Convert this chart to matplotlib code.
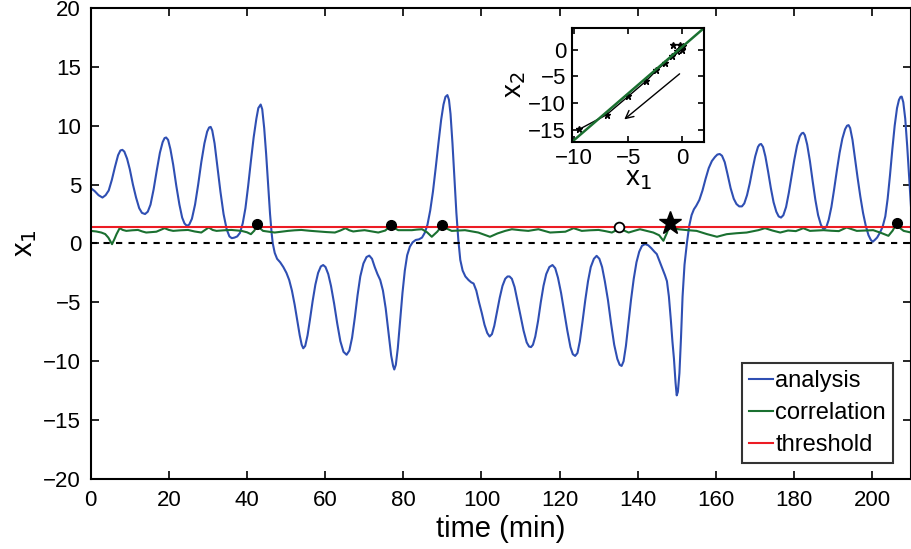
import matplotlib
matplotlib.use('Agg')
import matplotlib.pyplot as plt

plt.rcParams['font.family'] = ['Liberation Sans', 'DejaVu Sans']

# analysis trace (x1)
t_analysis = [0, 1, 2, 3, 3.8, 4.6, 5.4, 6.2, 7.0, 7.6, 8.1, 8.6, 9.3, 10.0, 10.8,
              11.6, 12.4, 13.1, 13.9, 14.6, 15.3, 16.1, 16.9, 17.7, 18.4, 18.9,
              19.3, 19.8, 20.4, 21.1, 21.9, 22.7, 23.4, 24.0, 24.6, 25.2, 25.9,
              26.7, 27.5, 28.3, 29.1, 29.8, 30.3, 30.7, 31.1, 31.7, 32.4, 33.2,
              34.0, 34.8, 35.5, 36.1, 36.8, 37.5, 38.2, 38.9, 39.6, 40.3, 41.0,
              41.7, 42.4, 42.9, 43.5, 43.9, 44.4, 44.9, 45.4, 45.9, 46.3, 46.6,
              47.1, 47.7, 48.5, 49.3, 50.1, 50.8, 51.5, 52.2, 52.9, 53.5, 54.0,
              54.4, 54.9, 55.5, 56.1, 56.8, 57.5, 58.2, 58.9, 59.5, 60.1, 60.8,
              61.5, 62.3, 63.1, 63.9, 64.7, 65.5, 66.2, 66.9, 67.6, 68.3, 69.0,
              69.8, 70.6, 71.3, 72.0, 72.7, 73.4, 74.1, 74.8, 75.5, 76.2, 76.9,
              77.4, 77.7, 78.1, 78.6, 79.2, 79.8, 80.4, 81.0, 81.7, 82.4, 83.2,
              84.0, 84.8, 85.5, 86.2, 86.9, 87.6, 88.3, 89.0, 89.7, 90.3, 90.8,
              91.3, 91.7, 92.1, 92.6, 93.1, 93.6, 94.1, 94.6, 95.2, 95.9, 96.7,
              97.4, 98.0, 98.7, 99.4, 100.1, 100.8, 101.5, 102.1, 102.7, 103.3,
              104.0, 104.7, 105.4, 106.1, 106.7, 107.2, 107.8, 108.5, 109.2,
              110.0, 110.8, 111.6, 112.2, 112.7, 113.2, 113.8, 114.5, 115.2,
              115.9, 116.6, 117.4, 118.2, 118.9, 119.6, 120.4, 121.2, 122.0,
              122.8, 123.4, 124.0, 124.6, 125.2, 125.9, 126.6, 127.3, 128.0,
              128.8, 129.5, 130.2, 130.9, 131.6, 132.4, 133.2, 134.0, 134.8,
              135.4, 135.9, 136.4, 137.0, 137.6, 138.3, 139.0, 139.7, 140.4,
              141.1, 141.9, 142.7, 143.5, 144.3, 144.9, 145.6, 146.3, 147.0,
              147.5, 148.0, 148.5, 148.9, 149.3, 149.7, 150.0, 150.3, 150.7,
              151.1, 151.5, 152.0, 152.6, 153.2, 153.8, 154.4, 155.0, 155.8,
              156.6, 157.4, 158.2, 159.0, 159.8, 160.4, 161.0, 161.6, 162.3,
              163.0, 163.8, 164.6, 165.3, 166.0, 166.7, 167.3, 168.0, 168.7,
              169.4, 170.1, 170.8, 171.2, 171.6, 172.1, 172.7, 173.4, 174.1,
              174.8, 175.5, 176.1, 176.7, 177.3, 178.0, 178.7, 179.4, 180.1,
              180.8, 181.5, 182.0, 182.4, 182.8, 183.4, 184.1, 184.8, 185.5,
              186.2, 186.9, 187.4, 187.8, 188.3, 188.9, 189.6, 190.3, 191.0,
              191.7, 192.4, 193.1, 193.6, 194.0, 194.4, 195.0, 195.6, 196.3,
              197.0, 197.7, 198.4, 199.1, 199.7, 200.2, 200.7, 201.3, 202.0,
              202.7, 203.4, 204.0, 204.6, 205.2, 205.8, 206.4, 206.9, 207.3,
              207.6, 208.0, 208.5, 209.0, 209.5, 210.0]
x1_analysis = [4.7, 4.45, 4.1, 3.9, 4.1, 4.5, 5.4, 6.5, 7.5, 7.9, 7.95, 7.8, 7.2,
               6.3, 5.0, 3.9, 3.0, 2.6, 2.5, 2.7, 3.3, 4.6, 6.2, 7.7, 8.6, 8.95,
               9.0, 8.8, 8.0, 6.7, 4.9, 3.3, 2.2, 1.7, 1.5, 1.6, 2.1, 3.3, 5.0,
               6.9, 8.5, 9.5, 9.85, 9.9, 9.6, 8.5, 6.6, 4.4, 2.5, 1.2, 0.6, 0.45,
               0.5, 0.6, 0.9, 1.7, 3.0, 4.9, 7.0, 9.0, 10.6, 11.5, 11.8, 11.4,
               9.8, 7.6, 5.0, 2.5, 0.9, 0.0, -0.8, -1.3, -1.6, -2.0, -2.5, -3.1,
               -4.0, -5.2, -6.6, -7.8, -8.6, -8.9, -8.7, -7.8, -6.5, -4.9, -3.5,
               -2.5, -1.95, -1.83, -2.0, -2.6, -3.6, -5.1, -6.8, -8.3, -9.2,
               -9.45, -9.1, -8.0, -6.3, -4.4, -2.8, -1.7, -1.15, -1.03, -1.3,
               -2.0, -2.6, -3.1, -4.0, -5.5, -7.5, -9.5, -10.4, -10.7, -10.3,
               -8.9, -6.5, -4.2, -2.3, -1.0, -0.27, 0.1, 0.3, 0.35, 0.5, 0.9,
               1.6, 2.8, 4.4, 6.4, 8.5, 10.5, 11.8, 12.45, 12.6, 12.2, 11.0, 8.5,
               5.5, 2.6, 0.3, -1.4, -2.3, -2.8, -3.1, -3.3, -3.4, -4.0, -5.0,
               -5.9, -6.9, -7.6, -7.9, -7.7, -7.0, -5.8, -4.6, -3.6, -3.0, -2.8,
               -2.8, -3.0, -3.7, -4.8, -6.1, -7.4, -8.4, -8.75, -8.8, -8.6, -7.9,
               -6.6, -5.0, -3.6, -2.6, -2.0, -1.83, -2.1, -2.9, -4.2, -5.8, -7.4,
               -8.8, -9.4, -9.55, -9.3, -8.3, -6.6, -4.8, -3.2, -2.0, -1.3, -1.05,
               -1.3, -2.0, -3.2, -4.8, -6.8, -8.6, -9.8, -10.3, -10.4, -10.0,
               -8.7, -6.9, -4.8, -3.0, -1.6, -0.7, -0.2, -0.05, -0.15, -0.4, -0.7,
               -0.9, -1.5, -2.1, -2.7, -3.2, -4.5, -6.5, -8.3, -9.8, -11.8, -12.9,
               -12.6, -11.0, -8.0, -4.5, -1.8, 0.0, 1.5, 2.4, 2.9, 3.2, 3.7, 4.5,
               5.5, 6.4, 7.0, 7.35, 7.55, 7.6, 7.45, 6.9, 5.9, 4.7, 3.8, 3.35,
               3.15, 3.15, 3.4, 4.1, 5.1, 6.3, 7.4, 8.2, 8.4, 8.45, 8.2, 7.4, 6.1,
               4.7, 3.5, 2.7, 2.3, 2.2, 2.4, 3.1, 4.3, 5.7, 7.1, 8.3, 9.1, 9.35,
               9.4, 9.2, 8.4, 7.0, 5.3, 3.7, 2.4, 1.6, 1.3, 1.25, 1.4, 2.0, 3.1,
               4.6, 6.2, 7.7, 8.9, 9.7, 10.0, 10.05, 9.8, 8.8, 7.3, 5.6, 4.0, 2.6,
               1.5, 0.7, 0.3, 0.15, 0.3, 0.5, 0.9, 1.4, 2.3, 3.8, 5.8, 8.0, 10.0,
               11.5, 12.2, 12.45, 12.47, 12.0, 10.6, 8.3, 5.6, 3.0]

# correlation trace
t_corr = [0, 1.4, 2.7, 3.7, 4.5, 5.45, 6.1, 6.6, 7.4, 8.2, 9.1, 10.6, 12.1, 13.2,
          14.2, 16.8, 18.9, 20.0, 21.1, 23.0, 24.9, 26.6, 28.3, 30.2, 31.2,
          32.2, 34.1, 36, 38.6, 40.0, 41, 41.9, 42.65, 43.3, 44.1, 45.6, 47.1,
          48.8, 50.5, 52.2, 53.9, 56.0, 58.2, 60.3, 62.5, 63.9, 65.2, 66.2,
          67.2, 68.6, 70.1, 71.9, 73.6, 75.4, 76.9, 77.8, 78.7, 80.4, 82.2,
          83.5, 84.8, 86.1, 87.3, 88.7, 90.0, 91.2, 92.4, 94.1, 95.8, 97.5,
          99.2, 100.7, 102.2, 104.1, 106.1, 107.8, 109.9, 112.0, 114.6, 116.1,
          117.6, 119.6, 121.5, 123.6, 125.7, 127.8, 130.0, 131.7, 133.4,
          134.4, 135.3, 136.5, 137.7, 139.2, 140.6, 142.3, 144.0, 145.5,
          146.6, 147.5, 148.3, 149.3, 150.4, 152.8, 155.1, 157.7, 160.3,
          162.8, 165.3, 167.9, 170.9, 172.6, 174.5, 176.5, 178.5, 180.5,
          182.4, 184.1, 185.9, 187.6, 189.6, 191.5, 193.5, 196.1, 198.2,
          200.3, 202.3, 204.2, 205.3, 206.3, 207.2, 208.1, 210]
corr = [1.07, 1.02, 0.93, 0.8, 0.5, -0.06, 0.4, 0.79, 1.30, 1.15, 1.07, 1.12,
        1.15, 1.02, 0.93, 1.0, 1.30, 1.15, 1.07, 1.12, 1.15, 1.02, 0.93, 1.36,
        1.15, 1.07, 1.12, 1.15, 1.07, 0.95, 0.79, 1.1, 1.64, 1.3, 1.07, 1.0,
        0.93, 1.0, 1.07, 1.12, 1.15, 1.08, 1.02, 0.97, 0.93, 1.1, 1.30, 1.12,
        1.02, 1.08, 1.13, 1.03, 0.93, 1.1, 1.55, 1.3, 1.13, 1.13, 1.13, 1.18,
        1.21, 0.95, 0.57, 1.0, 1.55, 1.25, 1.07, 1.1, 1.13, 1.03, 0.93, 0.75,
        0.57, 0.85, 1.07, 1.21, 1.13, 1.07, 1.21, 1.07, 0.93, 0.97, 1.0, 1.30,
        1.07, 1.12, 1.15, 1.05, 0.93, 1.1, 1.41, 1.1, 0.93, 1.08, 1.21, 1.07,
        0.93, 0.7, 0.23, 0.9, 1.7, 1.35, 1.21, 1.13, 1.07, 0.8, 0.57, 0.79,
        0.87, 0.93, 1.13, 1.30, 1.1, 0.93, 1.1, 1.05, 1.30, 1.07, 1.1, 1.13,
        1.08, 1.05, 1.36, 1.07, 1.1, 1.13, 0.9, 0.65, 1.1, 1.72, 1.3, 1.07,
        0.93]

threshold = 1.41

# detections
t_hit = [42.65, 76.9, 90.0, 206.3]
c_hit = [1.64, 1.55, 1.55, 1.72]
t_miss = [135.3]
c_miss = [1.41]
t_event = [148.3]
c_event = [1.75]

# inset: x1 vs x2
inset_x1 = [-9.5, -7.0, -5.0, -3.36, -2.4, -1.6, -1.0, -0.5, -0.06, 0.1, -0.2, -0.9]
inset_x2 = [-14.9, -12.2, -8.75, -5.9, -3.9, -2.5, -1.25, -0.3, 0.0, 0.6, 0.9, 0.9]
fit_x1 = [-10.2, 2.0]
fit_x2 = [-17.3, 4.05]

blue = '#2f4fb3'
green = '#1a7030'
red = '#ec1c24'

fig = plt.figure(figsize=(9.12, 5.49), dpi=100)
ax = fig.add_axes([0.0995, 0.1275, 0.8995, 0.858])

ax.plot(t_analysis, x1_analysis, color=blue, lw=1.5, label='analysis')
ax.plot(t_corr, corr, color=green, lw=1.5, label='correlation')
ax.axhline(threshold, color=red, lw=1.5, label='threshold')
ax.axhline(0, color='k', lw=1.5, ls=(0, (3, 3)))
ax.plot(t_hit, c_hit, 'o', color='k', ms=7, zorder=5)
ax.plot(t_miss, c_miss, 'o', mfc='white', mec='k', mew=1.3, ms=7, zorder=5)
ax.plot(t_event, c_event, '*', color='k', ms=17, zorder=5)

ax.set_xlim(0, 210)
ax.set_ylim(-20, 20)
ax.set_xticks(range(0, 210, 20))
ax.set_yticks(range(-20, 21, 5))
ax.tick_params(direction='in', length=6, width=1.2, labelsize=16,
               top=True, right=True)
ax.tick_params(axis='x', pad=8)
ax.tick_params(axis='y', pad=7)
for s in ax.spines.values():
    s.set_linewidth(1.5)
ax.set_xlabel('time (min)', fontsize=21, labelpad=3)
ax.set_ylabel('x$_1$', fontsize=21, labelpad=3)

leg = ax.legend(loc='lower right', bbox_to_anchor=(0.978, 0.034), fontsize=17,
                frameon=True, fancybox=False, handlelength=1.0,
                handletextpad=0.1, labelspacing=0.42, borderpad=0.3,
                borderaxespad=0)
leg.get_frame().set_edgecolor('k')
leg.get_frame().set_linewidth(1.5)

ins = fig.add_axes([0.627, 0.7413, 0.145, 0.2077])
ins.plot(inset_x1, inset_x2, '-*', color='k', lw=1, ms=5)
ins.plot(fit_x1, fit_x2, color=green, lw=1.8)
ins.annotate('', xy=(-5.56, -13.4), xytext=(-0.06, -4.2),
             arrowprops=dict(arrowstyle='->', color='k', lw=1,
                             mutation_scale=14))
ins.set_xlim(-10.2, 2)
ins.set_ylim(-17.3, 4.05)
ins.set_xticks([-10, -5, 0])
ins.set_yticks([-15, -10, -5, 0])
ins.tick_params(direction='in', length=4, width=1.2, labelsize=16,
                top=True, right=True, pad=4)
for s in ins.spines.values():
    s.set_linewidth(1.5)
ins.set_xlabel('x$_1$', fontsize=20, labelpad=-2)
ins.set_ylabel('x$_2$', fontsize=20, labelpad=0)

fig.savefig('out.png', dpi=100)
